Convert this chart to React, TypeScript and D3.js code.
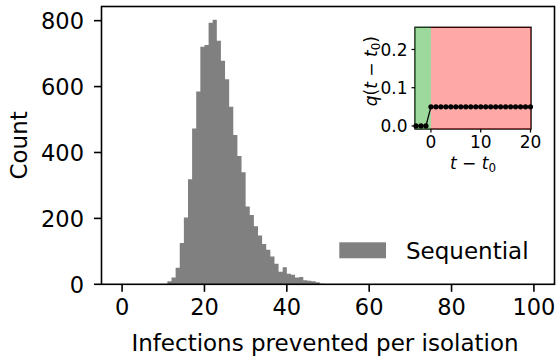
import React from "react";
import * as d3 from "d3";

// Histogram: left edge of each unit-wide bin and its count
const binLefts = [11, 12, 13, 14, 15, 16, 17, 18, 19, 20, 21, 22, 23, 24, 25, 26, 27, 28, 29, 30,
  31, 32, 33, 34, 35, 36, 37, 38, 39, 40, 41, 42, 43, 44, 45, 46, 47, 48, 49];
const counts = [9, 21, 50, 125, 203, 319, 473, 585, 721, 726, 794, 803, 739, 678, 622, 539, 453, 389, 340, 236,
  210, 176, 148, 122, 105, 84, 62, 38, 52, 32, 29, 21, 22, 12, 11, 9, 6, 2, 1];
const binWidth = 1;
const xTicks = [0, 20, 40, 60, 80, 100];
const yTicks = [0, 200, 400, 600, 800];
const seriesName = "Sequential";
const xLabel = "Infections prevented per isolation";
const yLabel = "Count";

// Inset: q(t - t0)
const insetT = [-3, -2, -1, 0, 1, 2, 3, 4, 5, 6, 7, 8, 9, 10, 11, 12, 13, 14, 15, 16, 17, 18, 19, 20];
const insetQ = [0, 0, 0, 0.05, 0.05, 0.05, 0.05, 0.05, 0.05, 0.05, 0.05, 0.05, 0.05, 0.05, 0.05, 0.05,
  0.05, 0.05, 0.05, 0.05, 0.05, 0.05, 0.05, 0.05];
const insetXTicks = [0, 10, 20];
const insetYTicks = [0, 0.1, 0.2];
const insetXDomain = [-3.2, 20.1];
const insetYDomain = [-0.008, 0.258];

const W = 557;
const H = 360;
const FONT = "DejaVu Sans, sans-serif";

export default function App() {
  const left = 101.5, right = 554.5, top = 6.5, bottom = 284.3;
  const x = d3.scaleLinear().domain([-5, 105]).range([left, right]);
  const y = d3.scaleLinear().domain([0, 843]).range([bottom, top]);

  const stepPts: [number, number][] = binLefts.map((b, i) => [b, counts[i]]);
  stepPts.push([binLefts[binLefts.length - 1] + binWidth, counts[counts.length - 1]]);
  const area = d3.area<[number, number]>()
    .x((d) => x(d[0]))
    .y0(y(0))
    .y1((d) => y(d[1]))
    .curve(d3.curveStepAfter);

  // inset
  const iL = 415, iR = 531, iT = 27.3, iB = 129;
  const ix = d3.scaleLinear().domain(insetXDomain).range([iL, iR]);
  const iy = d3.scaleLinear().domain(insetYDomain).range([iB, iT]);
  const line = d3.line<number>().x((_, i) => ix(insetT[i])).y((d) => iy(d));

  const fs = 23;
  const tfs = 22.5;
  const ifs = 17;

  return (
    <svg width={W} height={H} style={{ position: "absolute", left: 0, top: 0, background: "#fff" }}
      fontFamily={FONT}>
      <rect x={0} y={0} width={W} height={H} fill="#fff" />
      {/* histogram */}
      <path d={area(stepPts) || ""} fill="#808080" />
      {/* spines */}
      <rect x={left} y={top} width={right - left} height={bottom - top} fill="none" stroke="#000" strokeWidth={1.6} />
      {/* x ticks */}
      {xTicks.map((t) => (
        <g key={"xt" + t}>
          <line x1={x(t)} x2={x(t)} y1={bottom} y2={bottom + 7.5} stroke="#000" strokeWidth={1.6} />
          <text x={x(t)} y={314.5} fontSize={tfs} textAnchor="middle" fill="#000">{t}</text>
        </g>
      ))}
      {yTicks.map((t) => (
        <g key={"yt" + t}>
          <line x1={left - 7.5} x2={left} y1={y(t)} y2={y(t)} stroke="#000" strokeWidth={1.6} />
          <text x={84} y={y(t) + 8.2} fontSize={tfs} textAnchor="end" fill="#000">{t}</text>
        </g>
      ))}
      <text x={(left + right) / 2 - 3} y={351} fontSize={fs} textAnchor="middle" fill="#000">{xLabel}</text>
      <text transform={`translate(26.5, ${(top + bottom) / 2}) rotate(-90)`} fontSize={fs} textAnchor="middle" fill="#000">{yLabel}</text>

      {/* legend */}
      <rect x={339.3} y={242.3} width={46.7} height={16} fill="#808080" />
      <text x={406} y={258.5} fontSize={fs} fill="#000">{seriesName}</text>

      {/* inset */}
      <rect x={iL} y={iT} width={iR - iL} height={iB - iT} fill="#fff" />
      <rect x={iL} y={iT} width={iR - iL} height={iB - iT} fill="none" stroke="#000" strokeWidth={1.4} />
      <rect x={ix(insetXDomain[0])} y={iT} width={ix(0) - ix(insetXDomain[0])} height={iB - iT} fill="rgb(60,180,60)" fillOpacity={0.5} />
      <rect x={ix(0)} y={iT} width={ix(insetXDomain[1]) - ix(0)} height={iB - iT} fill="rgb(255,0,0)" fillOpacity={0.34} />
      {insetXTicks.map((t) => (
        <g key={"ixt" + t}>
          <line x1={ix(t)} x2={ix(t)} y1={iB} y2={iB + 3.5} stroke="#000" strokeWidth={1.2} />
          <text x={ix(t)} y={148} fontSize={ifs} textAnchor="middle" fill="#000">{t}</text>
        </g>
      ))}
      {insetYTicks.map((t) => (
        <g key={"iyt" + t}>
          <line x1={iL - 3.5} x2={iL} y1={iy(t)} y2={iy(t)} stroke="#000" strokeWidth={1.2} />
          <text x={407.5} y={iy(t) + 6.1} fontSize={ifs} textAnchor="end" fill="#000">{t.toFixed(1)}</text>
        </g>
      ))}
      <path d={line(insetQ) || ""} fill="none" stroke="#000" strokeWidth={1.3} />
      {insetQ.map((q, i) => (
        <circle key={"pt" + i} cx={ix(insetT[i])} cy={iy(q)} r={2.6} fill="#000" />
      ))}
      <text x={(iL + iR) / 2} y={169} fontSize={ifs} textAnchor="middle" fill="#000">
        <tspan fontStyle="italic">t</tspan>
        <tspan> − </tspan>
        <tspan fontStyle="italic">t</tspan>
        <tspan fontSize={ifs * 0.7} dy={3}>0</tspan>
      </text>
      <text transform={`translate(377, ${(iT + iB) / 2 - 7}) rotate(-90)`} fontSize={ifs} textAnchor="middle" fill="#000">
        <tspan fontStyle="italic">q</tspan>
        <tspan>(</tspan>
        <tspan fontStyle="italic">t</tspan>
        <tspan> − </tspan>
        <tspan fontStyle="italic">t</tspan>
        <tspan fontSize={ifs * 0.7} dy={3}>0</tspan>
        <tspan dy={-3}>)</tspan>
      </text>
    </svg>
  );
}
